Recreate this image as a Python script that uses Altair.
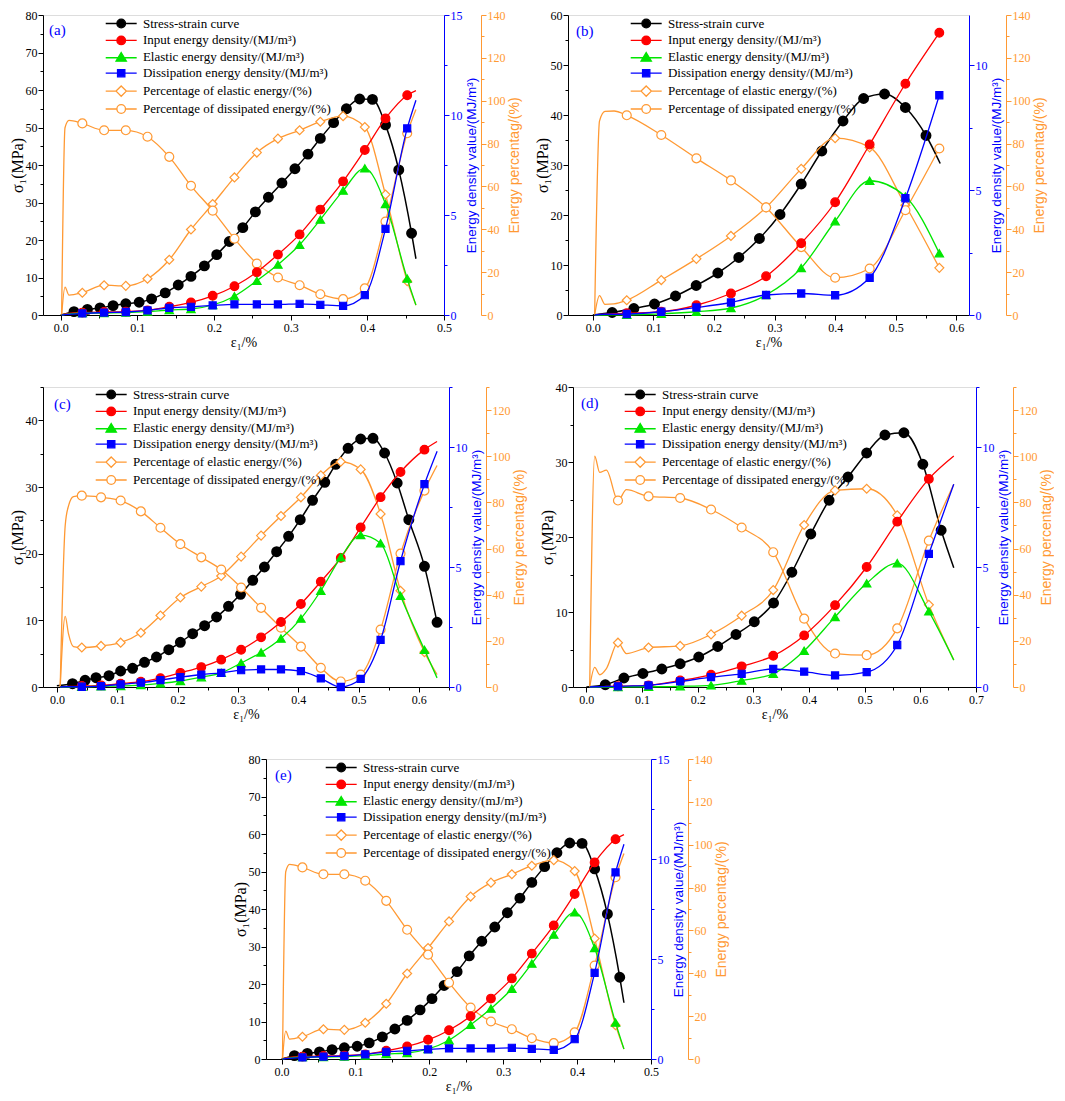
import altair as alt
import pandas as pd

# ---------------------------------------------------------------- data
# panel (a) (also used for panel (e))
A_SX = [0.0, 0.0174, 0.0349, 0.0514, 0.0684, 0.085, 0.1024, 0.1186, 0.1364, 0.1534, 0.170, 0.1875, 0.2036, 0.220, 0.2376,
        0.254, 0.271, 0.2886, 0.3056, 0.3226, 0.3387, 0.356, 0.3727, 0.390, 0.4067, 0.4237, 0.441, 0.4577, 0.4634]
A_SY = [0.0, 0.9, 1.5, 1.9, 2.5, 3.0, 3.4, 4.3, 5.9, 8.0, 10.3, 13.1, 16.1, 19.6, 23.3,
        27.5, 31.4, 35.2, 39.0, 42.9, 47.1, 51.3, 55.0, 57.6, 57.5, 50.7, 38.7, 21.8, 15.0]
A_SM = [0, 1, 1, 1, 1, 1, 1, 1, 1, 1, 1, 1, 1, 1, 1, 1, 1, 1, 1, 1, 1, 1, 1, 1, 1, 1, 1, 1, 0]
A_EX = [0.0013, 0.0057, 0.0109, 0.0283, 0.0567, 0.085, 0.1133, 0.1417, 0.170, 0.1983, 0.2267, 0.2559, 0.2834, 0.3117,
        0.3387, 0.3684, 0.3967, 0.4237, 0.452, 0.4634]
A_EM = [0, 0, 0, 1, 1, 1, 1, 1, 1, 1, 1, 1, 1, 1, 1, 1, 1, 1, 1, 0]
A_IN = [0.0, 0.05, 0.08, 0.12, 0.15, 0.17, 0.23, 0.41, 0.63, 0.96, 1.44, 2.14, 3.02, 4.03, 5.27, 6.68, 8.25, 9.83, 10.99, 11.22]
A_EL = [0.0, 0.03, 0.05, 0.10, 0.10, 0.12, 0.17, 0.25, 0.30, 0.50, 0.94, 1.71, 2.52, 3.51, 4.77, 6.22, 7.33, 5.55, 1.82, 0.50]
A_DI = [0.0, 0.02, 0.03, 0.08, 0.12, 0.15, 0.23, 0.36, 0.41, 0.48, 0.53, 0.53, 0.53, 0.56, 0.51, 0.46, 0.99, 4.31, 9.33, 10.74]
A_PE = [0.0, 13.0, 9.3, 10.4, 13.9, 13.6, 16.9, 25.8, 39.9, 51.8, 64.2, 75.8, 82.3, 86.2, 90.2, 92.8, 87.7, 56.2, 15.8, 4.6]
A_PD = [0.0, 87.4, 90.8, 89.4, 86.2, 86.2, 83.2, 73.8, 60.3, 48.7, 35.6, 24.0, 17.5, 13.9, 9.7, 7.4, 12.4, 43.6, 84.8, 95.9]

# panel (b)
B_SX = [0.0, 0.0319, 0.0677, 0.1018, 0.1365, 0.1706, 0.2064, 0.241, 0.275, 0.309, 0.344, 0.378, 0.413, 0.447, 0.4816,
        0.516, 0.550, 0.5735]
B_SY = [0.0, 0.5, 1.3, 2.2, 3.8, 5.9, 8.4, 11.5, 15.3, 20.1, 26.2, 32.8, 38.8, 43.3, 44.2, 41.5, 35.9, 30.3]
B_SM = [0, 1, 1, 1, 1, 1, 1, 1, 1, 1, 1, 1, 1, 1, 1, 1, 1, 0]
B_EX = [0.003, 0.011, 0.020, 0.035, 0.056, 0.113, 0.171, 0.228, 0.286, 0.344, 0.400, 0.457, 0.516, 0.572]
B_EM = [0, 0, 0, 0, 1, 1, 1, 1, 1, 1, 1, 1, 1, 1]
B_IN = [0.0, 0.02, 0.03, 0.05, 0.07, 0.13, 0.39, 0.86, 1.55, 2.87, 4.51, 6.82, 9.25, 11.29]
B_EL = [0.0, 0.0, 0.0, 0.01, 0.01, 0.05, 0.13, 0.28, 0.80, 1.88, 3.75, 5.37, 4.74, 2.47]
B_DI = [0.0, 0.02, 0.03, 0.03, 0.04, 0.13, 0.30, 0.50, 0.80, 0.86, 0.79, 1.49, 4.67, 8.79]
B_PE = [0.0, 9.0, 5.0, 5.2, 6.9, 16.3, 26.2, 36.9, 50.2, 68.2, 82.5, 78.2, 51.2, 22.0]
B_PD = [0.0, 90.5, 95.0, 95.2, 93.2, 84.0, 73.1, 62.8, 50.2, 31.7, 17.4, 21.7, 48.9, 77.7]

# panel (c)
C_SX = [0.0, 0.0259, 0.0468, 0.0649, 0.0864, 0.1057, 0.1255, 0.1453, 0.1651, 0.1855, 0.2047, 0.2251, 0.2449, 0.2647,
        0.2845, 0.3044, 0.3247, 0.344, 0.3643, 0.3841, 0.4034, 0.4238, 0.4441, 0.4623, 0.4827, 0.5036, 0.524, 0.5432,
        0.5641, 0.5834, 0.6093, 0.6302]
C_SY = [0.2, 0.5, 1.0, 1.4, 1.7, 2.4, 2.8, 3.7, 4.5, 5.6, 6.7, 8.0, 9.2, 10.5, 12.1, 13.9, 16.0, 18.0, 20.3, 22.6,
        25.1, 28.0, 30.7, 33.4, 35.8, 37.2, 37.3, 35.1, 30.6, 25.1, 18.1, 9.7]
C_SM = [0, 1, 1, 1, 1, 1, 1, 1, 1, 1, 1, 1, 1, 1, 1, 1, 1, 1, 1, 1, 1, 1, 1, 1, 1, 1, 1, 1, 1, 1, 1, 1]
C_EX = [0.0055, 0.0138, 0.0193, 0.0275, 0.0413, 0.0732, 0.1057, 0.1392, 0.1717, 0.2047, 0.2394, 0.2724, 0.3054,
        0.3385, 0.3715, 0.4045, 0.4375, 0.4706, 0.5036, 0.5366, 0.5696, 0.6093, 0.6302]
C_EM = [0, 0, 0, 0, 1, 1, 1, 1, 1, 1, 1, 1, 1, 1, 1, 1, 1, 1, 1, 1, 1, 1, 0]
C_IN = [0.0, 0.01, 0.02, 0.03, 0.04, 0.07, 0.14, 0.22, 0.37, 0.59, 0.83, 1.14, 1.55, 2.07, 2.71, 3.46, 4.39, 5.38,
        6.65, 7.91, 8.96, 9.89, 10.23]
C_EL = [0.0, 0.0, 0.0, 0.01, 0.01, 0.03, 0.04, 0.08, 0.15, 0.25, 0.41, 0.59, 1.00, 1.44, 2.02, 2.85, 4.01, 5.40,
        6.33, 5.99, 3.80, 1.55, 0.38]
C_DI = [0.0, 0.01, 0.01, 0.01, 0.01, 0.04, 0.11, 0.18, 0.29, 0.41, 0.52, 0.59, 0.70, 0.73, 0.73, 0.66, 0.36, 0.0,
        0.34, 1.96, 5.24, 8.45, 9.82]
C_PE = [0.0, 30.6, 23.0, 17.5, 17.1, 17.8, 19.2, 23.5, 31.0, 38.8, 43.5, 48.1, 56.5, 65.6, 74.1, 82.2, 91.7, 97.6,
        94.3, 75.0, 41.7, 15.1, 5.4]
C_PD = [0.0, 70.0, 78.5, 82.5, 82.9, 82.2, 80.8, 76.1, 69.0, 61.9, 56.2, 50.9, 43.1, 34.3, 25.7, 17.5, 8.3, 2.4,
        5.4, 24.9, 57.8, 85.1, 96.0]

# panel (d)
D_SX = [0.0, 0.034, 0.0675, 0.1016, 0.1356, 0.1685, 0.2019, 0.236, 0.2688, 0.3017, 0.3363, 0.3692, 0.4032, 0.4361,
        0.4701, 0.5036, 0.5364, 0.5705, 0.6045, 0.6374, 0.6601]
D_SY = [0.0, 0.3, 1.2, 1.8, 2.4, 3.1, 4.0, 5.4, 7.0, 8.7, 11.2, 15.3, 20.4, 24.9, 28.0, 31.2, 33.6, 33.9, 29.7, 20.9, 15.9]
D_SM = [0, 1, 1, 1, 1, 1, 1, 1, 1, 1, 1, 1, 1, 1, 1, 1, 1, 1, 1, 1, 0]
D_EX = [0.006, 0.015, 0.024, 0.036, 0.0568, 0.072, 0.1117, 0.1685, 0.224, 0.279, 0.3357, 0.3913, 0.4468, 0.5036,
        0.5585, 0.6153, 0.6601]
D_EM = [0, 0, 0, 0, 1, 0, 1, 1, 1, 1, 1, 1, 1, 1, 1, 1, 0]
D_IN = [0.0, 0.01, 0.01, 0.02, 0.03, 0.04, 0.07, 0.27, 0.51, 0.86, 1.30, 2.15, 3.41, 5.0, 6.89, 8.67, 9.62]
D_EL = [0.0, 0.0, 0.0, 0.0, 0.0, 0.01, 0.01, 0.03, 0.07, 0.27, 0.55, 1.51, 2.92, 4.32, 5.16, 3.15, 1.12]
D_DI = [0.0, 0.01, 0.01, 0.02, 0.03, 0.04, 0.07, 0.23, 0.41, 0.55, 0.75, 0.64, 0.48, 0.62, 1.75, 5.55, 8.45]
D_PE = [0.0, 8.5, 5.3, 8.0, 19.2, 14.5, 17.1, 17.8, 22.8, 30.9, 42.0, 70.2, 85.2, 85.9, 74.4, 35.6, 11.7]
D_PD = [0.0, 100.0, 93.0, 94.0, 80.8, 85.5, 82.6, 81.9, 76.9, 69.1, 58.4, 29.6, 14.5, 13.8, 25.4, 63.4, 87.9]

# legend texts
LEG_MJ = ["Stress-strain curve", "Input energy density/(MJ/m³)", "Elastic energy density/(MJ/m³)",
          "Dissipation energy density/(MJ/m³)", "Percentage of elastic energy/(%)",
          "Percentage of dissipated energy/(%)"]
LEG_mJ = ["Stress-strain curve", "Input energy density/(mJ/m³)", "Elastic energy density/(mJ/m³)",
          "Dissipation energy density/(mJ/m³)", "Percentage of elastic energy/(%)",
          "Percentage of dissipated energy/(%)"]
TAGS = ["(a)", "(b)", "(c)", "(d)", "(e)"]

# ---------------------------------------------------------------- style
BLACK, RED, GREEN, BLUE, ORANGE = "#000000", "#ff0000", "#00e600", "#0000ff", "#ff9933"
SERIF, SANS = "Liberation Serif", "Liberation Sans"

LEG_SHAPES = [
    "M-3.6,0H3.6M-1,0A1,1,0,1,0,1,0A1,1,0,1,0,-1,0Z",
    "M-3.6,0H3.6M-1,0A1,1,0,1,0,1,0A1,1,0,1,0,-1,0Z",
    "M-3.6,0.1H3.6M0,-1.1L1.2,0.9L-1.2,0.9Z",
    "M-3.6,0H3.6M-0.85,-0.85H0.85V0.85H-0.85Z",
    "M-3.6,0H-1.2M1.2,0H3.6M0,-1.2L1.2,0L0,1.2L-1.2,0Z",
    "M-3.6,0H-1M1,0H3.6M-1,0A1,1,0,1,0,1,0A1,1,0,1,0,-1,0Z",
]
LEG_STROKE = [BLACK, RED, GREEN, BLUE, ORANGE, ORANGE]
LEG_FILL = [BLACK, RED, GREEN, BLUE, "white", "white"]


def ticks(hi, step):
    n = int(round(hi / step + 1e-9))
    return [round(i * step, 6) for i in range(n + 1)]


def is_major(major):
    return f"abs(datum.value/{major} - round(datum.value/{major})) < 1e-6"


def y_axis(orient, hi, minor, major, title, color, offset=0, tfont=SERIF, tsize=16):
    kw = dict(orient=orient, values=ticks(hi, minor), offset=offset,
              labelExpr=f"{is_major(major)} ? format(datum.value, 'd') : ''",
              tickSize={"condition": {"test": f"!({is_major(major)})", "value": 3}, "value": 5},
              domainColor=color, tickColor=color, labelColor=color, titleColor=color,
              labelFont=SERIF, labelFontSize=12, titleFont=tfont, titleFontSize=tsize,
              titleFontWeight="normal", labelFlush=False, labelOverlap=False, grid=False,
              title=title, domainWidth=1, tickWidth=1, labelPadding=1, titlePadding=0)
    if orient == "right":
        kw.update(titleAngle=270, titleBaseline="top", titlePadding=2)
    return alt.Axis(**kw)


def x_axis(hi):
    vals = ticks(hi + 1e-9, 0.05)
    return alt.Axis(values=vals, labelExpr=f"{is_major(0.1)} ? format(datum.value, '.1f') : ''",
                    tickSize={"condition": {"test": f"!({is_major(0.1)})", "value": 3}, "value": 5},
                    domainColor=BLACK, tickColor=BLACK, labelColor=BLACK, titleColor=BLACK,
                    labelFont=SERIF, labelFontSize=12, titleFont=SERIF, titleFontSize=14,
                    titleFontWeight="normal", labelFlush=False, labelOverlap=False, grid=False,
                    title="ε₁/%", labelPadding=2, titlePadding=2)


def make_panel(d):
    X = alt.X("x:Q", scale=alt.Scale(domain=d["xdom"], nice=False, zero=False), axis=x_axis(d["xdom"][1]))

    # stress layer
    sdf = pd.DataFrame({"x": d["sx"], "y": d["sy"], "mk": d["sm"]})
    sax = y_axis("left", d["smax"], 5, 10, "σ₁(MPa)", BLACK)
    sbase = alt.Chart(sdf).encode(x=X, y=alt.Y("y:Q", scale=alt.Scale(domain=[0, d["smax"]], nice=False), axis=sax))
    stress = alt.layer(
        sbase.mark_line(color=BLACK, strokeWidth=1.5, interpolate="monotone"),
        sbase.transform_filter("datum.mk == 1").mark_point(shape="circle", filled=True, fill=BLACK, stroke=BLACK,
                                                           size=80, opacity=1),
    )

    edf = pd.DataFrame({"x": d["ex"], "mk": d["em"], "inp": d["inp"], "ela": d["ela"], "dis": d["dis"],
                        "pel": d["pel"], "pdi": d["pdi"]})

    def series(field, ax, dom, color, shape, fill, size):
        base = alt.Chart(edf).encode(x=X, y=alt.Y(f"{field}:Q", scale=alt.Scale(domain=dom, nice=False), axis=ax))
        return [base.mark_line(color=color, strokeWidth=1.3, interpolate="monotone"),
                base.transform_filter("datum.mk == 1").mark_point(shape=shape, filled=True, fill=fill, stroke=color,
                                                                  strokeWidth=1.2, size=size, opacity=1)]

    pax = y_axis("right", d["pmax"], 10, 20, "Energy percentag/(%)", ORANGE, offset=37, tfont=SANS, tsize=14)
    pdom = [0, d["pmax"]]
    pct = alt.layer(*(series("pel", pax, pdom, ORANGE, "diamond", "white", 80) +
                      series("pdi", pax, pdom, ORANGE, "circle", "white", 80)))

    eax = y_axis("right", d["emax"], 2.5, 5, "Energy density value/(MJ/m³)", BLUE, tfont=SANS, tsize=13.5)
    edom = [0, d["emax"]]
    energy = alt.layer(*(series("inp", eax, edom, RED, "circle", RED, 75) +
                         series("ela", eax, edom, GREEN, "triangle-up", GREEN, 70) +
                         series("dis", eax, edom, BLUE, "square", BLUE, 50)))

    leg = alt.Legend(title=None, orient="none", legendX=d["lx"] - 4.3, legendY=d["ly"], labelFont=SERIF,
                     labelFontSize=13, labelColor=BLACK, labelLimit=600, labelOffset=15.2, symbolSize=74,
                     symbolStrokeWidth=1.3, symbolOpacity=1, rowPadding=1.9, padding=0)
    ldf = pd.DataFrame({"s": d["leg"]})
    legend = alt.Chart(ldf).transform_filter("datum.s == '__none__'").mark_point(opacity=1).encode(
        shape=alt.Shape("s:N", scale=alt.Scale(domain=d["leg"], range=LEG_SHAPES), legend=leg),
        fill=alt.Fill("s:N", scale=alt.Scale(domain=d["leg"], range=LEG_FILL), legend=leg),
        stroke=alt.Stroke("s:N", scale=alt.Scale(domain=d["leg"], range=LEG_STROKE), legend=leg),
    )

    tag = alt.Chart(pd.DataFrame({"t": [d["tag"]]})).mark_text(
        font=SERIF, fontSize=15, color=BLUE, align="left", baseline="middle").encode(
        text="t:N", x=alt.value(d["tx"]), y=alt.value(d["ty"]))

    return alt.layer(stress, pct, energy, legend, tag).resolve_scale(y="independent").properties(
        width=d["w"], height=d["h"])


H = 300
PA = dict(sx=A_SX, sy=A_SY, sm=A_SM, ex=A_EX, em=A_EM, inp=A_IN, ela=A_EL, dis=A_DI, pel=A_PE, pdi=A_PD,
          xdom=[-0.023, 0.5], smax=80, emax=15, pmax=140, leg=LEG_MJ, tag=TAGS[0], w=401, h=H,
          lx=76, ly=2, tx=6, ty=15)
PB = dict(sx=B_SX, sy=B_SY, sm=B_SM, ex=B_EX, em=B_EM, inp=B_IN, ela=B_EL, dis=B_DI, pel=B_PE, pdi=B_PD,
          xdom=[-0.041, 0.621], smax=60, emax=12, pmax=140, leg=LEG_MJ, tag=TAGS[1], w=401, h=H,
          lx=76, ly=2, tx=8, ty=16)
PC = dict(sx=C_SX, sy=C_SY, sm=C_SM, ex=C_EX, em=C_EM, inp=C_IN, ela=C_EL, dis=C_DI, pel=C_PE, pdi=C_PD,
          xdom=[-0.023, 0.65], smax=45, emax=12.5, pmax=130, leg=LEG_MJ, tag=TAGS[2], w=406, h=H,
          lx=66, ly=1, tx=11, ty=17)
PD = dict(sx=D_SX, sy=D_SY, sm=D_SM, ex=D_EX, em=D_EM, inp=D_IN, ela=D_EL, dis=D_DI, pel=D_PE, pdi=D_PD,
          xdom=[-0.024, 0.7], smax=40, emax=12.5, pmax=130, leg=LEG_MJ, tag=TAGS[3], w=403, h=H,
          lx=65, ly=1, tx=8, ty=16)
PE = dict(sx=A_SX, sy=A_SY, sm=A_SM, ex=A_EX, em=A_EM, inp=A_IN, ela=A_EL, dis=A_DI, pel=A_PE, pdi=A_PD,
          xdom=[-0.021, 0.5], smax=80, emax=15, pmax=140, leg=LEG_mJ, tag=TAGS[4], w=385, h=H,
          lx=73, ly=2, tx=9, ty=16)

spacer = alt.Chart(pd.DataFrame({"s": [0]})).mark_point(opacity=0).encode(
    x=alt.value(0), y=alt.value(0)).properties(width=176, height=10, view=alt.ViewBackground(stroke="transparent"))

IND = dict(shape="independent", fill="independent", stroke="independent")
row1 = alt.hconcat(make_panel(PA), make_panel(PB), spacing=11).resolve_scale(**IND)
row2 = alt.hconcat(make_panel(PC), make_panel(PD), spacing=11).resolve_scale(**IND)
row3 = alt.hconcat(spacer, make_panel(PE), spacing=11).resolve_scale(**IND)

chart = alt.vconcat(row1, row2, row3, spacing=30).resolve_scale(**IND).properties(
    padding={"left": 0, "right": 0, "top": 0, "bottom": 0}
).configure_view(stroke=BLACK, strokeWidth=1).configure(font=SERIF)

chart.save("out.html", embed_options={"renderer": "svg", "actions": False})
